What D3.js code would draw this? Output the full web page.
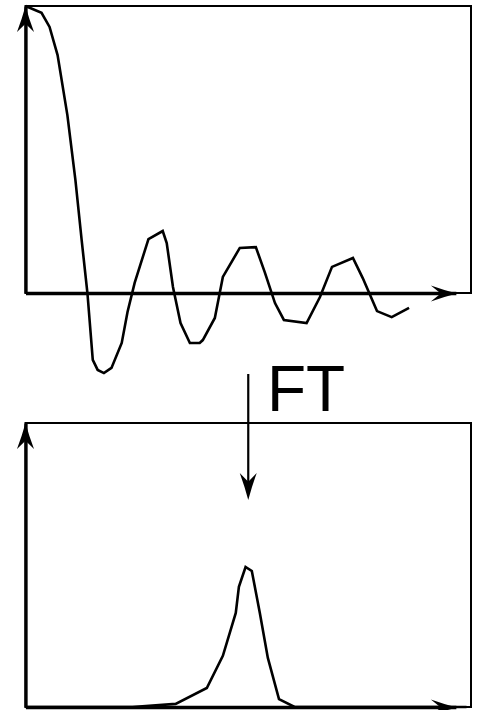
<!DOCTYPE html>
<html>
<head>
<meta charset="utf-8">
<script src="https://cdn.jsdelivr.net/npm/d3@7"></script>
<style>
html,body{margin:0;padding:0;background:#fff;}
svg{display:block;}
</style>
</head>
<body>
<svg id="chart" width="479" height="710"></svg>
<script>
// ---- data: time-domain signal (damped oscillation) ----
const timeT = [0, 0.36, 0.54, 0.72, 0.94, 1.12, 1.26, 1.39, 1.51, 1.62, 1.76, 1.93, 2.16, 2.29, 2.45, 2.76, 3.08, 3.17, 3.31, 3.48, 3.69, 3.91, 3.98, 4.25, 4.43, 4.81, 5.17, 5.37, 5.60, 5.80, 6.31, 6.61, 6.88, 7.35, 7.57, 7.89, 8.22, 8.61];
const timeAmp = [1.0, 0.976, 0.927, 0.829, 0.620, 0.394, 0.185, 0.0, -0.233, -0.268, -0.279, -0.261, -0.174, -0.066, 0.035, 0.188, 0.216, 0.174, 0.021, -0.105, -0.174, -0.174, -0.164, -0.087, 0.056, 0.157, 0.160, 0.073, -0.035, -0.094, -0.105, -0.014, 0.091, 0.122, 0.052, -0.063, -0.084, -0.052];
// ---- data: frequency-domain spectrum ----
const freqF = [0, 2.40, 3.37, 4.07, 4.43, 4.72, 4.79, 4.94, 5.08, 5.26, 5.44, 5.69, 6.04, 9.9];
const freqMag = [0, 0, 0.011, 0.067, 0.180, 0.331, 0.423, 0.493, 0.479, 0.331, 0.173, 0.028, 0, 0];
const labelText = "FT";

const svg = d3.select("#chart");
const x = d3.scaleLinear().domain([0, 10]).range([25.5, 471]);
const yTop = d3.scaleLinear().domain([0, 1]).range([293, 6]);
const yBot = d3.scaleLinear().domain([0, 1]).range([707, 423]);
const axisEnd = 9.66;
const xAxisScale = d3.scaleLinear().domain([0, axisEnd]).range([x(0), x(axisEnd)]);

function arrowHead(tx, ty, angleDeg, len, hw, notch) {
  const p = d3.path();
  p.moveTo(0, 0);
  p.quadraticCurveTo(-len * 0.5, -hw * 0.42, -len, -hw);
  p.lineTo(-len * notch, 0);
  p.lineTo(-len, hw);
  p.quadraticCurveTo(-len * 0.5, hw * 0.42, 0, 0);
  p.closePath();
  svg.append("path").attr("d", p.toString())
    .attr("transform", `translate(${tx},${ty}) rotate(${angleDeg})`)
    .attr("fill", "#000");
}

function panel(yScale, data) {
  // frame
  svg.append("rect")
    .attr("x", x(0)).attr("y", yScale(1))
    .attr("width", x(10) - x(0)).attr("height", yScale(0) - yScale(1))
    .attr("fill", "none").attr("stroke", "#000").attr("stroke-width", 2);
  // x axis (no ticks)
  const gx = svg.append("g").attr("transform", `translate(0,${yScale(0)})`)
    .call(d3.axisBottom(xAxisScale).tickValues([]).tickSizeOuter(0));
  gx.select(".domain").attr("stroke", "#000").attr("stroke-width", 3.3);
  // y axis (no ticks)
  const gy = svg.append("g").attr("transform", `translate(${x(0)},0)`)
    .call(d3.axisLeft(yScale).tickValues([]).tickSizeOuter(0));
  gy.select(".domain").attr("stroke", "#000").attr("stroke-width", 3.3);
  arrowHead(x(axisEnd) + 1, yScale(0) + 0.5, 0, 26, 8, 0.62);
  arrowHead(x(0), yScale(1), -90, 26, 8.5, 0.68);
  // curve
  const line = d3.line().x(d => x(d[0])).y(d => yScale(d[1]));
  svg.append("path").datum(data).attr("d", line)
    .attr("fill", "none").attr("stroke", "#000").attr("stroke-width", 2.6)
    .attr("stroke-linejoin", "miter");
}

panel(yTop, d3.zip(timeT, timeAmp));
panel(yBot, d3.zip(freqF, freqMag));

// FT arrow and label
const ftX = x(5.0);
svg.append("line").attr("x1", ftX).attr("x2", ftX).attr("y1", 374).attr("y2", 492)
  .attr("stroke", "#000").attr("stroke-width", 2.2);
arrowHead(ftX, 500, 90, 27, 8.5, 0.68);
svg.append("text").attr("x", 267).attr("y", 411)
  .attr("font-family", "Liberation Sans, Arial, sans-serif")
  .attr("font-size", 64).attr("fill", "#000").text(labelText);
</script>
</body>
</html>
